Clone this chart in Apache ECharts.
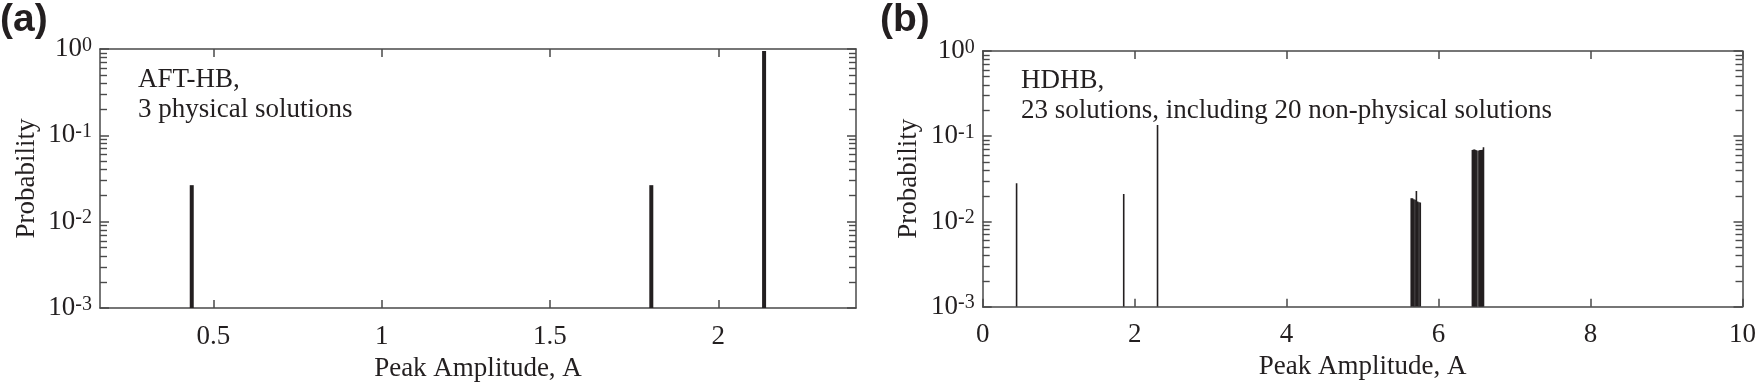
<!DOCTYPE html>
<html>
<head>
<meta charset="utf-8">
<script src="https://cdn.jsdelivr.net/npm/echarts@6/dist/echarts.min.js"></script>
<style>
html,body{margin:0;padding:0;background:#fff;}
#c{width:1759px;height:387px;}
</style>
</head>
<body>
<div id="c"></div>
<script>
// ---- data ----
const aAmp  = [0.436, 1.801, 2.136];
const aProb = [0.0265, 0.0265, 0.947];

const bAmp  = [0.446, 1.856, 2.301,
  5.640, 5.657, 5.674, 5.691, 5.708, 5.725, 5.742, 5.759,
  6.445, 6.457, 6.469, 6.481, 6.493, 6.505, 6.531, 6.543, 6.555, 6.567, 6.579, 6.591];
const bProb = [0.0281, 0.0210, 0.1355,
  0.0187, 0.0187, 0.0182, 0.0180, 0.0228, 0.0171, 0.0168, 0.0167,
  0.0690, 0.0695, 0.0698, 0.0692, 0.0686, 0.0680, 0.0682, 0.0686, 0.0688, 0.0690, 0.0694, 0.0742];

const aXTicks = [0.5, 1, 1.5, 2];
const bXTicks = [0, 2, 4, 6, 8, 10];
const yTicks  = [0.001, 0.01, 0.1, 1];
const aXRange = [0.1635, 2.409];
const bXRange = [0, 10];
const yRange  = [0.001, 1];
const aNote = ['AFT-HB,', '3 physical solutions'];
const bNote = ['HDHB,', '23 solutions, including 20 non-physical solutions'];
const panelTags = ['(a)', '(b)'];
const xName = 'Peak Amplitude, A';
const yName = 'Probability';

// minor tick exponents for the log axis (2..9 per decade)
const yMinorExp = [];
for (let d = -3; d < 0; d++) for (let k = 2; k <= 9; k++) yMinorExp.push(d + Math.log10(k));

// ---- style ----
const TXT = '#231f20';
const AX = '#4a4a4a';
const SERIF = '"Liberation Serif","Times New Roman",serif';
const FS = 27;
const grids = [
  {left: 100, top: 49, width: 756, height: 262},
  {left: 982.7, top: 51, width: 763, height: 255.7}
];

function xAxes(gi, range, ticks) {
  const common = {
    gridIndex: gi, type: 'value', min: range[0], max: range[1],
    splitLine: {show: false},
    axisLine: {show: true, onZero: false, lineStyle: {color: AX, width: 1.5}},
    axisTick: {show: true, inside: true, length: 8, customValues: ticks, lineStyle: {color: AX, width: 1.5}}
  };
  return [
    Object.assign({}, common, {
      position: 'bottom',
      axisLabel: {show: true, customValues: ticks, margin: 15, color: TXT, fontFamily: SERIF, fontSize: FS},
      name: xName, nameLocation: 'middle', nameGap: 46,
      nameTextStyle: {color: TXT, fontFamily: SERIF, fontSize: FS}
    }),
    Object.assign({}, common, {position: 'top', axisLabel: {show: false, customValues: ticks}})
  ];
}

function yAxes(gi) {
  const major = {
    gridIndex: gi, type: 'log', logBase: 10, min: yRange[0], max: yRange[1],
    splitLine: {show: false},
    axisLine: {show: true, onZero: false, lineStyle: {color: AX, width: 1.5}},
    axisTick: {show: true, inside: true, length: 9, lineStyle: {color: AX, width: 1.5}}
  };
  const minor = {
    gridIndex: gi, type: 'value', min: -3, max: 0,
    splitLine: {show: false},
    axisLine: {show: false, onZero: false},
    axisLabel: {show: false, customValues: yMinorExp},
    axisTick: {show: true, inside: true, length: 7, customValues: yMinorExp, lineStyle: {color: AX, width: 1.4}}
  };
  return [
    Object.assign({}, major, {
      position: 'left',
      axisLabel: {
        show: true, margin: 8,
        formatter: v => '{b|10}{s|' + Math.round(Math.log10(v)) + '}',
        rich: {
          b: {fontFamily: SERIF, fontSize: FS, lineHeight: FS, padding: [8, 0, 0, 0], verticalAlign: 'bottom', color: TXT},
          s: {fontFamily: SERIF, fontSize: 20, lineHeight: 20, verticalAlign: 'top', color: TXT}
        }
      },
      name: yName, nameLocation: 'middle', nameGap: 60,
      nameTextStyle: {color: TXT, fontFamily: SERIF, fontSize: FS}
    }),
    Object.assign({}, major, {position: 'right', axisLabel: {show: false}}),
    Object.assign({}, minor, {position: 'left'}),
    Object.assign({}, minor, {position: 'right'})
  ];
}

function barSeries(gi, amps, probs, w) {
  return {
    type: 'custom',
    xAxisIndex: gi * 2, yAxisIndex: gi * 4,
    data: amps.map((a, i) => [a, probs[i]]),
    encode: {x: 0, y: 1},
    clip: true,
    renderItem: function (params, api) {
      const top = api.coord([api.value(0), api.value(1)]);
      const base = api.coord([api.value(0), yRange[0]]);
      return {
        type: 'rect',
        shape: {x: top[0] - w / 2, y: top[1], width: w, height: base[1] - top[1]},
        style: {fill: TXT}
      };
    }
  };
}

function note(x, y, lines) {
  return lines.map((t, i) => ({
    type: 'text', left: x, top: y + i * 30, silent: true,
    style: {text: t, fill: TXT, font: FS + 'px ' + SERIF}
  }));
}

const chart = echarts.init(document.getElementById('c'), null, {renderer: 'canvas'});
chart.setOption({
  animation: false,
  backgroundColor: '#fff',
  grid: grids,
  xAxis: [].concat(xAxes(0, aXRange, aXTicks), xAxes(1, bXRange, bXTicks)),
  yAxis: [].concat(yAxes(0), yAxes(1)),
  series: [barSeries(0, aAmp, aProb, 4), barSeries(1, bAmp, bProb, 1.6)],
  graphic: [
    {type: 'text', left: 0, top: 1, silent: true,
     style: {text: panelTags[0], fill: TXT, font: 'bold 39px "Liberation Sans", Arial, sans-serif'}},
    {type: 'text', left: 880, top: 1, silent: true,
     style: {text: panelTags[1], fill: TXT, font: 'bold 39px "Liberation Sans", Arial, sans-serif'}}
  ].concat(note(138, 66, aNote), note(1021, 67, bNote))
});
</script>
</body>
</html>
